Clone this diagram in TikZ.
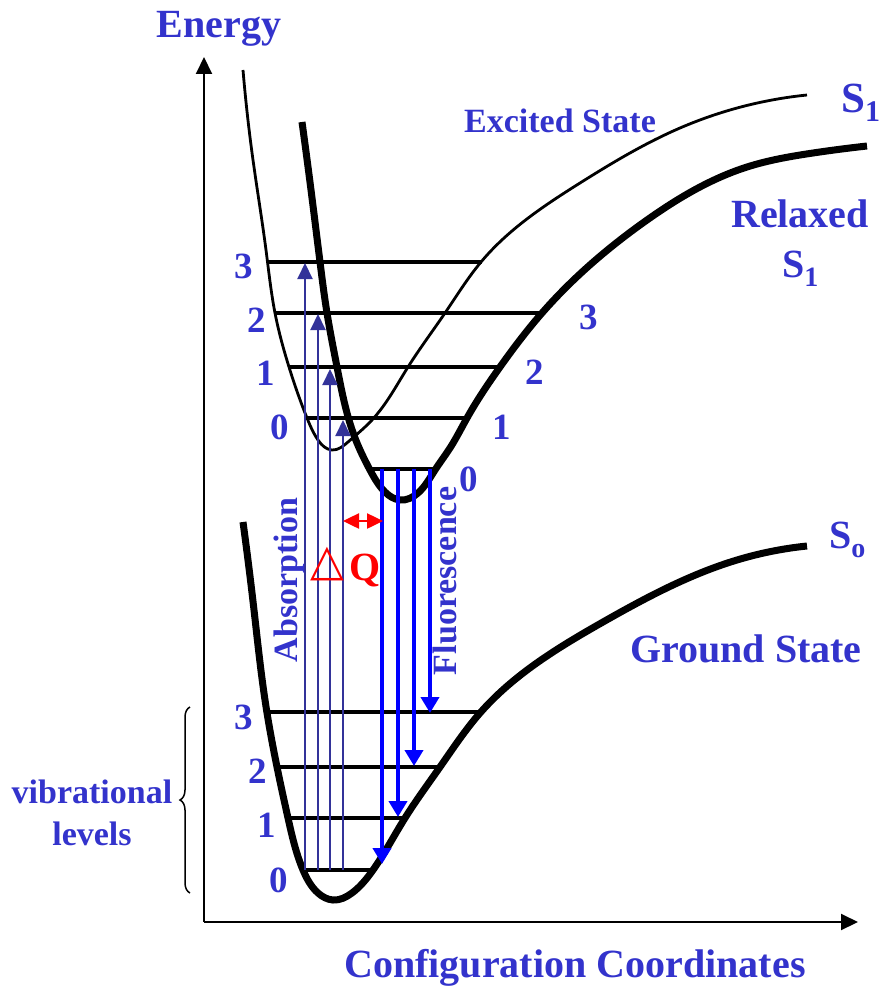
\documentclass[tikz,border=0pt]{standalone}
\usepackage{fontspec}
\usepackage{graphicx}
\setmainfont{Liberation Serif}
\newfontfamily\deltafont{DejaVu Sans}
\usetikzlibrary{arrows.meta,decorations.pathreplacing,hobby}
\definecolor{lblue}{RGB}{51,51,204}
\definecolor{ablue}{RGB}{51,51,153}
\definecolor{fblue}{RGB}{0,0,255}
\definecolor{qred}{RGB}{255,0,0}
\begin{document}
\begin{tikzpicture}[x=1pt,y=-1pt,
  lbl/.style={text=lblue,inner sep=0pt,font=\bfseries\fontsize{40}{42}\selectfont},
  mid/.style={text=lblue,inner sep=0pt,font=\bfseries\fontsize{34}{36}\selectfont},
  num/.style={text=lblue,inner sep=0pt,font=\bfseries\fontsize{37}{40}\selectfont},
  axisline/.style={line width=2pt,-{Triangle[length=17pt,width=16pt]}},
  thickcurve/.style={line width=7pt,line cap=butt,use Hobby shortcut},
  thincurve/.style={line width=2.8pt,use Hobby shortcut},
  level/.style={line width=4pt},
  absarrow/.style={ablue,line width=2pt,-{Triangle[length=16pt,width=15pt]}},
  fluarrow/.style={fblue,line width=4pt,-{Triangle[length=16pt,width=18pt]}},
  qarrow/.style={qred,line width=2.5pt,{Triangle[length=16pt,width=15pt]}-{Triangle[length=16pt,width=15pt]}}
]
\useasboundingbox (0,0) rectangle (881,987);

% axes
\coordinate (O) at (204,922);
\coordinate (ytop) at (204,57);
\coordinate (xend) at (858,922);
\draw[axisline] (O) -- (ytop);
\draw[axisline] (O) -- (xend);

% ground state S0
\draw[thickcurve] (243,522) .. (254,610) .. (265,700) .. (277,767) .. (288,818) .. (303,870) .. (318,893) .. (333,900) .. (352,893) .. (373,870) .. (405,818) .. (440,767) .. (480,713) .. (603,622) .. (737,560) .. (807,546);

% excited S1 (thin)
\draw[thincurve] (243,70) .. (253,160) .. (266,250) .. (275,313) .. (289,367) .. (307,418) .. (318,440) .. (332,450) .. (348,442) .. (372,420) .. (408,367) .. (445,313) .. (481,262) .. (580,183) .. (680,128) .. (807,95);

% relaxed S1 (thick)
\draw[thickcurve] (302,122) .. (311,190) .. (320,262) .. (327,313) .. (337,367) .. (347,413) .. (357,443) .. (370,470) .. (385,492) .. (400,500) .. (418,493) .. (435,470) .. (450,448) .. (467,418) .. (500,367) .. (542,313) .. (647,220) .. (747,167) .. (813,153) .. (867,146);

% excited vibrational levels
\draw[level] (268,262) -- (482,262);
\draw[level] (275,313) -- (542,313);
\draw[level] (289,367) -- (498,367);
\draw[level] (307,418) -- (467,418);
\draw[level] (367,469) -- (433,469);

% ground vibrational levels
\draw[level] (267,712) -- (480,712);
\draw[level] (277,767) -- (440,767);
\draw[level] (287,818) -- (405,818);
\draw[level] (302,870) -- (373,870);

% absorption arrows
\coordinate (a0) at (305,870); \coordinate (e3) at (305,263);
\coordinate (b0) at (318,870); \coordinate (e2) at (318,314);
\coordinate (c0) at (330,870); \coordinate (e1) at (330,369);
\coordinate (d0) at (343,870); \coordinate (e0) at (343,420);
\draw[absarrow] (a0) -- (e3);
\draw[absarrow] (b0) -- (e2);
\draw[absarrow] (c0) -- (e1);
\draw[absarrow] (d0) -- (e0);

% fluorescence arrows
\coordinate (f0) at (382,469); \coordinate (g0) at (382,864);
\coordinate (f1) at (398,469); \coordinate (g1) at (398,817);
\coordinate (f2) at (414,469); \coordinate (g2) at (414,766);
\coordinate (f3) at (430,469); \coordinate (g3) at (430,713);
\draw[fluarrow] (f3) -- (g3);
\draw[fluarrow] (f2) -- (g2);
\draw[fluarrow] (f1) -- (g1);
\draw[fluarrow] (f0) -- (g0);

% Delta Q
\coordinate (q1) at (343,521); \coordinate (q2) at (383,521);
\draw[qarrow] (q1) -- (q2);
\node[text=qred,inner sep=0pt,font=\deltafont\fontsize{44}{46}\selectfont] (dlt) at (327,564) {△};
\node[text=qred,inner sep=0pt,anchor=base west,font=\bfseries\fontsize{40}{42}\selectfont] (Q) at (349,580) {Q};

% labels
\node[lbl,anchor=base] (energy) at (219,38) {Energy};
\node[lbl,anchor=base] (config) at (575,977) {Configuration Coordinates};
\node[mid,anchor=base] (excited) at (560,133) {Excited State};
\node[lbl,anchor=base west,font=\bfseries\fontsize{43}{44}\selectfont] (s1a) at (841,113) {S\raisebox{-9pt}{\fontsize{30}{30}\selectfont 1}};
\node[lbl,anchor=base] (relaxed) at (800,227) {Relaxed};
\node[lbl,anchor=base west] (s1b) at (782,277) {S\raisebox{-9pt}{\fontsize{28}{28}\selectfont 1}};
\node[lbl,anchor=base west] (s0) at (829,548) {S\raisebox{-9pt}{\fontsize{28}{28}\selectfont o}};
\node[lbl,anchor=base] (ground) at (746,662) {Ground State};
\node[mid,anchor=base] (vib) at (92,803) {vibrational};
\node[mid,anchor=base] (lev) at (92,845) {levels};
\node[mid,rotate=90] (abs) at (289,580) {Absorption};
\node[mid,rotate=90] (flu) at (445,581) {Fluorescence};

% level numbers, excited
\node[num] (n3l) at (244,266) {3};
\node[num] (n2l) at (257,320) {2};
\node[num] (n1l) at (266,373) {1};
\node[num] (n0l) at (280,427) {0};
\node[num] (n3r) at (589,317) {3};
\node[num] (n2r) at (535,372) {2};
\node[num] (n1r) at (502,427) {1};
\node[num] (n0r) at (469,479) {0};
% level numbers, ground
\node[num] (g3n) at (244,717) {3};
\node[num] (g2n) at (258,771) {2};
\node[num] (g1n) at (267,825) {1};
\node[num] (g0n) at (279,880) {0};

% brace
\coordinate (br1) at (190,893);
\coordinate (br2) at (190,707);
\draw[line width=1.5pt,decorate,decoration={brace,amplitude=10pt}] (br1) -- (br2);
\end{tikzpicture}
\end{document}
